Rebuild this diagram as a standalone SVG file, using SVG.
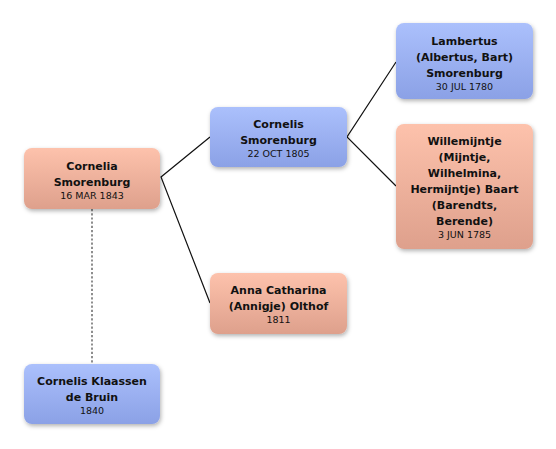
<svg xmlns="http://www.w3.org/2000/svg" width="556" height="449" viewBox="0 0 556 449">
<defs>
<linearGradient id="gF" x1="0" y1="0" x2="0" y2="1"><stop offset="0" stop-color="#fdc2ac"/><stop offset="1" stop-color="#dea08c"/></linearGradient>
<linearGradient id="gM" x1="0" y1="0" x2="0" y2="1"><stop offset="0" stop-color="#abc0fc"/><stop offset="1" stop-color="#8ba1e6"/></linearGradient>
<filter id="sh" x="-10%" y="-10%" width="125%" height="130%"><feDropShadow dx="1" dy="2" stdDeviation="2" flood-color="#000" flood-opacity="0.3"/></filter>
</defs>
<style>
.box{filter:url(#sh)}
.f{fill:url(#gF)}
.m{fill:url(#gM)}
text{font-family:"DejaVu Sans","Liberation Sans",sans-serif;text-anchor:middle;fill:#111}
.n{font-size:11px;font-weight:bold}
.d{font-size:9.5px}
.ln{stroke:#111;stroke-width:1.2;fill:none}
.dash{stroke:#6a6a6a;stroke-width:1.5;stroke-dasharray:2.2,2;fill:none}
</style>
<rect width="556" height="449" fill="#fff"/>
<g id="connectors">
<polyline class="ln" points="210,137 161,177 210,303"/>
<polyline class="ln" points="396,62 347,137 396,186"/>
<line class="dash" x1="92" y1="209" x2="92" y2="364"/>
</g>
<g id="cornelia">
<rect class="box f" x="24" y="148" width="136" height="61" rx="8"/>
<text class="n" x="92" y="170">Cornelia</text>
<text class="n" x="92" y="186">Smorenburg</text>
<text class="d" x="92" y="199">16 MAR 1843</text>
</g>
<g id="cornelis">
<rect class="box m" x="210" y="107" width="137" height="60" rx="8"/>
<text class="n" x="278.5" y="128">Cornelis</text>
<text class="n" x="278.5" y="144">Smorenburg</text>
<text class="d" x="278.5" y="157">22 OCT 1805</text>
</g>
<g id="lambertus">
<rect class="box m" x="396" y="23" width="137" height="76" rx="8"/>
<text class="n" x="464.5" y="44.5">Lambertus</text>
<text class="n" x="464.5" y="60.5">(Albertus, Bart)</text>
<text class="n" x="464.5" y="76.5">Smorenburg</text>
<text class="d" x="464.5" y="90">30 JUL 1780</text>
</g>
<g id="willemijntje">
<rect class="box f" x="396" y="124" width="137" height="125" rx="8"/>
<text class="n" x="464.5" y="144.5">Willemijntje</text>
<text class="n" x="464.5" y="160.5">(Mijntje,</text>
<text class="n" x="464.5" y="176.5">Wilhelmina,</text>
<text class="n" x="464.5" y="192.5">Hermijntje) Baart</text>
<text class="n" x="464.5" y="208.5">(Barendts,</text>
<text class="n" x="464.5" y="224.5">Berende)</text>
<text class="d" x="464.5" y="238">3 JUN 1785</text>
</g>
<g id="anna">
<rect class="box f" x="210" y="273" width="137" height="61" rx="8"/>
<text class="n" x="278.5" y="294">Anna Catharina</text>
<text class="n" x="278.5" y="310">(Annigje) Olthof</text>
<text class="d" x="278.5" y="323">1811</text>
</g>
<g id="klaassen">
<rect class="box m" x="24" y="364" width="136" height="60" rx="8"/>
<text class="n" x="92" y="385">Cornelis Klaassen</text>
<text class="n" x="92" y="401">de Bruin</text>
<text class="d" x="92" y="414">1840</text>
</g>
</svg>
